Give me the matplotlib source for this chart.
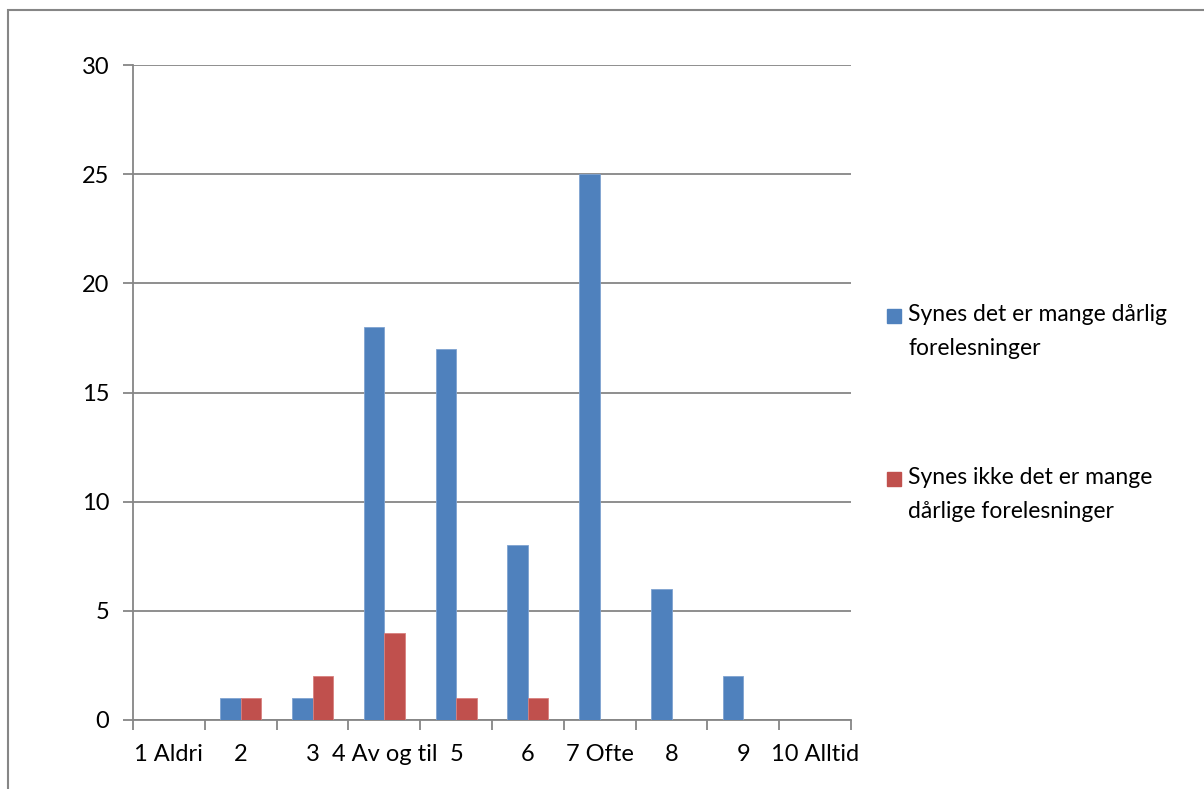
import matplotlib
matplotlib.use("Agg")
import matplotlib.pyplot as plt
from matplotlib.patches import Rectangle
import numpy as np

categories = ["1 Aldri", "2", "3", "4 Av og til", "5", "6", "7 Ofte", "8", "9", "10 Alltid"]
mange_daarlige = [0, 1, 1, 18, 17, 8, 25, 6, 2, 0]
ikke_mange = [0, 1, 2, 4, 1, 1, 0, 0, 0, 0]
series_names = ["Synes det er mange dårlig\nforelesninger",
                "Synes ikke det er mange\ndårlige forelesninger"]

blue = "#4F81BD"
red = "#C0504D"
grey = "#868686"

plt.rcParams["font.family"] = ["Lato", "DejaVu Sans"]
plt.rcParams["font.size"] = 17

fig = plt.figure(figsize=(12.04, 7.89), dpi=100)
ax = fig.add_axes([133 / 1204, 69 / 789, 718 / 1204, 655 / 789])

x = np.arange(len(categories))
w = 1 / 3.5
ax.bar(x - w / 2, mange_daarlige, w, color=blue, edgecolor="#7fa3d1", linewidth=0.6, zorder=3)
ax.bar(x + w / 2, ikke_mange, w, color=red, edgecolor="#d8807e", linewidth=0.6, zorder=3)

ax.set_xlim(-0.5, len(categories) - 0.5)
ax.set_ylim(0, 30)
ax.set_yticks(range(0, 31, 5))
ax.yaxis.grid(True, color=grey, linewidth=1.3, zorder=0)
ax.set_axisbelow(True)

# category boundaries get the tick marks, labels sit in the middle
ax.set_xticks(np.arange(-0.5, len(categories)))
ax.set_xticklabels([])
ax.set_xticks(x, minor=True)
ax.set_xticklabels(categories, minor=True)
ax.tick_params(axis="x", which="minor", length=0, pad=17)
ax.tick_params(axis="x", which="major", length=7, width=1.3, color=grey)
ax.tick_params(axis="y", length=7, width=1.3, color=grey, pad=10)

for s in ["top", "right"]:
    ax.spines[s].set_visible(False)
for s in ["left", "bottom"]:
    ax.spines[s].set_color(grey)
    ax.spines[s].set_linewidth(1.3)

# legend drawn by hand, Excel style
for i, (name, col) in enumerate(zip(series_names, [blue, red])):
    ytop = 1 - (307 + i * 163) / 789
    fig.patches.append(Rectangle((887 / 1204, ytop - 16 / 789), 14 / 1204, 14 / 789,
                                 transform=fig.transFigure, color=col))
    fig.text(908 / 1204, ytop + 3 / 789, name, va="top", ha="left", linespacing=1.75,
             fontsize=16.5)

# chart area border
fig.patches.append(Rectangle((7.5 / 1204, -0.1), 1.2, 1.1 - 10 / 789, transform=fig.transFigure,
                             fill=False, edgecolor=grey, linewidth=1.5))

fig.savefig("out.png", dpi=100)
